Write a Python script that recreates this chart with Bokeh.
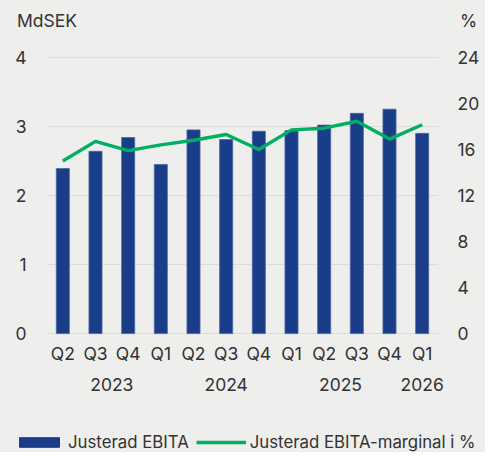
from bokeh.plotting import figure
from bokeh.layouts import column
from bokeh.models import (Range1d, LinearAxis, FixedTicker, Legend, LegendItem,
                          ColumnDataSource, Grid, Label)
from bokeh.embed import file_html
from bokeh.resources import INLINE

quarters = ["Q2", "Q3", "Q4", "Q1", "Q2", "Q3", "Q4", "Q1", "Q2", "Q3", "Q4", "Q1"]
years = ["2023", "2024", "2025", "2026"]
year_pos = [2.0, 5.5, 9.0, 11.5]
ebita = [2.39, 2.64, 2.84, 2.45, 2.95, 2.81, 2.93, 2.94, 3.02, 3.19, 3.25, 2.90]
margin = [15.0, 16.7, 15.9, 16.4, 16.8, 17.3, 16.0, 17.7, 17.85, 18.45, 16.9, 18.15]
left_ticks = [0, 1, 2, 3, 4]
right_ticks = [0, 4, 8, 12, 16, 20, 24]
unit_left = "MdSEK"
unit_right = "%"
series_names = ["Justerad EBITA", "Justerad EBITA-marginal i %"]

FONT = "Inter"
TXT = "#333333"
BG = "#eeeeec"
BLUE = "#1a3d8a"
GREEN = "#00b062"
FS = "17.5px"
W = 485


def plain(fig):
    fig.background_fill_color = BG
    fig.border_fill_color = BG
    fig.outline_line_color = None
    try:
        fig.frame_align = False
    except Exception:
        pass
    return fig


# ---------- header with unit labels ----------
top = plain(figure(width=W, height=36, output_backend="svg", toolbar_location=None,
                   x_axis_type=None, y_axis_type=None,
                   x_range=Range1d(0, W), y_range=Range1d(0, 36), min_border=0))
top.add_layout(Label(x=16.4, y=36 - 19.5, text=unit_left, text_font=FONT, text_font_size=FS,
                     text_color=TXT, text_baseline="middle", text_align="left"))
top.add_layout(Label(x=459.5, y=36 - 19.5, text=unit_right, text_font=FONT, text_font_size=FS,
                     text_color=TXT, text_baseline="middle", text_align="left"))

# ---------- main chart ----------
xs = [i + 0.5 for i in range(len(quarters))]
src = ColumnDataSource(dict(x=xs, ebita=ebita, margin=margin))

p = plain(figure(width=W, height=394, output_backend="svg", toolbar_location=None,
                 x_axis_type=None, y_axis_type=None,
                 x_range=Range1d(0, 12), y_range=Range1d(-0.1, 4.1),
                 min_border_left=46, min_border_right=47, min_border_top=14,
                 min_border_bottom=90))
p.extra_y_ranges = {"pct": Range1d(-0.6, 24.6)}


def style_axis(ax):
    ax.axis_line_color = None
    ax.major_tick_line_color = None
    ax.minor_tick_line_color = None
    ax.major_tick_out = 0
    ax.major_tick_in = 0
    ax.minor_tick_out = 0
    ax.minor_tick_in = 0
    ax.major_label_text_font = FONT
    ax.major_label_text_font_size = FS
    ax.major_label_text_color = TXT


yl = LinearAxis(ticker=FixedTicker(ticks=left_ticks))
style_axis(yl)
yl.major_label_standoff = 20
p.add_layout(yl, "left")

yr = LinearAxis(y_range_name="pct", ticker=FixedTicker(ticks=right_ticks))
style_axis(yr)
yr.major_label_standoff = 19
p.add_layout(yr, "right")

xq = LinearAxis(ticker=FixedTicker(ticks=xs),
                major_label_overrides={x: q for x, q in zip(xs, quarters)})
style_axis(xq)
xq.major_label_standoff = 2
p.add_layout(xq, "below")

xy = LinearAxis(ticker=FixedTicker(ticks=year_pos),
                major_label_overrides={x: y for x, y in zip(year_pos, years)})
style_axis(xy)
xy.major_label_standoff = 11
p.add_layout(xy, "below")

p.add_layout(Grid(dimension=1, ticker=FixedTicker(ticks=left_ticks),
                  grid_line_color="#dcdcdb", grid_line_width=1.2))

p.vbar(x="x", top="ebita", bottom=0, width=0.4, source=src,
       fill_color=BLUE, line_color="#4a67a3", line_width=0.8)
p.line(x="x", y="margin", source=src, y_range_name="pct",
       line_color=GREEN, line_width=3.4, line_join="round")

# ---------- legend strip ----------
leg = plain(figure(width=W, height=22, output_backend="svg", toolbar_location=None,
                   x_axis_type=None, y_axis_type=None,
                   x_range=Range1d(0, 1), y_range=Range1d(0, 1), min_border=0))
# legend carriers: off-range samples so the legend swatches get their styles
carrier = ColumnDataSource(dict(x=[5.0, 6.0], top=[1.0, 1.0], y=[5.0, 5.0]))
lb = leg.vbar(x="x", top="top", width=0.4, source=carrier, fill_color=BLUE, line_color=BLUE)
ll = leg.line(x="x", y="y", source=carrier, line_color=GREEN, line_width=3.4)
legend = Legend(items=[LegendItem(label=series_names[0], renderers=[lb]),
                       LegendItem(label=series_names[1], renderers=[ll])],
                orientation="horizontal", location=(14, 0),
                glyph_width=50, glyph_height=12, label_standoff=4, spacing=7,
                padding=0, margin=0, border_line_color=None, background_fill_alpha=0,
                label_text_font=FONT, label_text_font_size="16.8px", label_text_color=TXT,
                label_height=18)
leg.add_layout(legend, "center")

root = column(top, p, leg, spacing=0)
root.styles = {"background-color": BG}

open("out.html", "w").write(file_html(root, INLINE))
